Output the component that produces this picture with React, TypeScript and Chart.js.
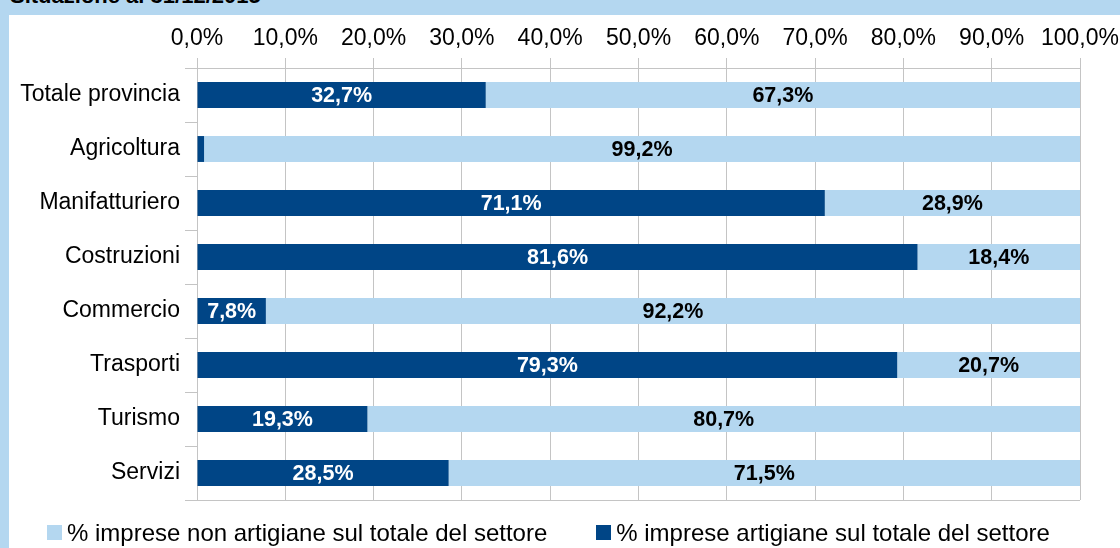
import React, { useEffect, useRef } from "react";
import { Chart, registerables } from "chart.js";

Chart.register(...registerables);

const categories = [
  "Totale provincia",
  "Agricoltura",
  "Manifatturiero",
  "Costruzioni",
  "Commercio",
  "Trasporti",
  "Turismo",
  "Servizi",
];
const artigiane = [32.7, 0.8, 71.1, 81.6, 7.8, 79.3, 19.3, 28.5];
const nonArtigiane = [67.3, 99.2, 28.9, 18.4, 92.2, 20.7, 80.7, 71.5];
const xTicks = [0, 10, 20, 30, 40, 50, 60, 70, 80, 90, 100];
const seriesNames = [
  "% imprese artigiane sul totale del settore",
  "% imprese non artigiane sul totale del settore",
];
const titleText = "Situazione al 31/12/2015";

const DARK = "#004586";
const LIGHT = "#b4d7f0";
const GRID = "#c4c4c4";
const FONT = "'Liberation Sans', Arial, sans-serif";

const fmt = (v: number) => v.toFixed(1).replace(".", ",") + "%";

const labelPlugin = {
  id: "barLabels",
  afterDatasetsDraw(chart: any) {
    const ctx = chart.ctx;
    ctx.save();
    ctx.font = `bold 21.5px ${FONT}`;
    ctx.textAlign = "center";
    ctx.textBaseline = "middle";
    chart.data.datasets.forEach((ds: any, di: number) => {
      const meta = chart.getDatasetMeta(di);
      meta.data.forEach((bar: any, i: number) => {
        const v = ds.data[i];
        const txt = fmt(v);
        const w = Math.abs(bar.x - bar.base);
        if (w < ctx.measureText(txt).width + 4) return;
        ctx.fillStyle = di === 0 ? "#ffffff" : "#000000";
        ctx.fillText(txt, (bar.x + bar.base) / 2, bar.y + 1);
      });
    });
    ctx.restore();
  },
};

export default function App() {
  const ref = useRef<HTMLCanvasElement | null>(null);
  useEffect(() => {
    if (!ref.current) return;
    const font = { family: FONT, size: 23 };
    const chart = new Chart(ref.current, {
      type: "bar",
      data: {
        labels: categories,
        datasets: [
          {
            label: seriesNames[0],
            data: artigiane,
            backgroundColor: DARK,
            categoryPercentage: 1,
            barPercentage: 0.48,
          },
          {
            label: seriesNames[1],
            data: nonArtigiane,
            backgroundColor: LIGHT,
            categoryPercentage: 1,
            barPercentage: 0.48,
          },
        ],
      },
      options: {
        indexAxis: "y",
        responsive: false,
        animation: false,
        layout: { padding: { left: 10, right: 40, top: 15, bottom: 48 } },
        plugins: { legend: { display: false }, tooltip: { enabled: false } },
        scales: {
          x: {
            position: "top",
            stacked: true,
            min: 0,
            max: 100,
            afterBuildTicks: (s: any) => {
              s.ticks = xTicks.map((v) => ({ value: v }));
            },
            ticks: {
              callback: (v: any) => fmt(Number(v)),
              color: "#000",
              font,
              padding: 6,
              maxRotation: 0,
            },
            grid: { color: GRID, tickColor: GRID, tickLength: 10, lineWidth: 1 },
            border: { display: false },
            afterFit: (s: any) => {
              s.height = 53;
              s.paddingLeft = 0;
              s.paddingRight = 0;
            },
          },
          y: {
            stacked: true,
            ticks: { color: "#000", font, padding: 5 },
            grid: {
              offset: true,
              tickLength: 12,
              tickColor: GRID,
              color: (c: any) =>
                c.type !== "tick" || c.index === 0 ? GRID : "rgba(0,0,0,0)",
            },
            border: { color: GRID },
            afterFit: (s: any) => {
              s.width = 187;
              s.paddingTop = 0;
              s.paddingBottom = 0;
            },
          },
        },
      },
      plugins: [labelPlugin],
    } as any);
    return () => chart.destroy();
  }, []);

  const legendItems = [
    { name: seriesNames[1], color: LIGHT },
    { name: seriesNames[0], color: DARK },
  ];

  return (
    <div
      style={{
        position: "fixed",
        left: 0,
        top: 0,
        width: 1120,
        height: 548,
        background: LIGHT,
        overflow: "hidden",
        fontFamily: FONT,
      }}
    >
      <div
        style={{
          position: "absolute",
          left: 10,
          top: -15,
          fontSize: 22,
          lineHeight: "22px",
          fontWeight: "bold",
          color: "#000",
          whiteSpace: "nowrap",
        }}
      >
        {titleText}
      </div>
      <div
        style={{
          position: "absolute",
          left: 9,
          top: 15,
          width: 1111,
          height: 533,
          background: "#fff",
        }}
      />
      <canvas
        ref={ref}
        width={1120}
        height={548}
        style={{ position: "absolute", left: 0, top: 0, width: 1120, height: 548 }}
      />
      <div
        style={{
          position: "absolute",
          left: 47,
          top: 520,
          height: 25,
          display: "flex",
          alignItems: "center",
          gap: 49,
          fontSize: 24,
          color: "#000",
          whiteSpace: "nowrap",
        }}
      >
        {legendItems.map((it) => (
          <div key={it.name} style={{ display: "flex", alignItems: "center" }}>
            <span
              style={{
                display: "inline-block",
                width: 15,
                height: 15,
                background: it.color,
                marginRight: 5,
              }}
            />
            <span>{it.name}</span>
          </div>
        ))}
      </div>
    </div>
  );
}
